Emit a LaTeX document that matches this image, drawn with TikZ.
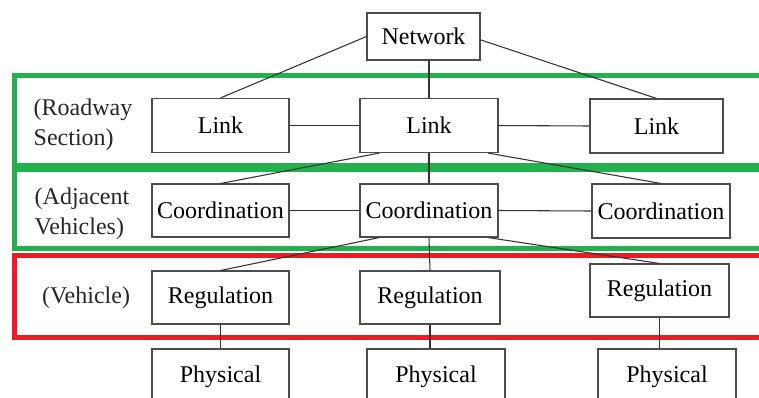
\documentclass[tikz,border=0pt]{standalone}
\usepackage{fontspec}
\setmainfont{Liberation Serif}
\usepackage{xcolor}
\usepackage{tikz}
\definecolor{bandgreen}{RGB}{34,177,76}
\definecolor{bandred}{RGB}{237,28,36}

\begin{document}
\begin{tikzpicture}[x=0.75pt,y=0.75pt,yscale=-1,xscale=1,
  box/.style={draw=black!70,line width=0.8pt,minimum width=102.75pt,minimum height=40.5pt,inner sep=0pt,font=\fontsize{18}{22.5}\selectfont},
  wire/.style={draw=black!80,line width=0.8pt},
  side/.style={align=left,inner sep=0pt,font=\fontsize{18}{22.5}\selectfont,text=black!85},
  band/.style={line width=3.75pt}]
\useasboundingbox (0,0) rectangle (759,397);
\clip (0,0) rectangle (759,397);
\draw [band,draw=bandgreen] (765,75.5) -- (14,75.5) -- (14,165.5) -- (765,165.5) ;
\draw [band,draw=bandgreen] (765,169.5) -- (14,169.5) -- (14,248.5) -- (765,248.5) ;
\draw [band,draw=bandred] (765,255) -- (14,255) -- (14,337) -- (765,337) ;
\node [box,minimum width=84.75pt,minimum height=35.25pt] (net) at (423.5,36.5) {Network};
\node [box] (link1) at (220.5,125.5) {Link};
\node [box,minimum width=103.5pt] (link2) at (429,125.5) {Link};
\node [box,minimum width=99.75pt] (link3) at (656.5,126) {Link};
\node [box,minimum height=39.75pt] (coord1) at (220.5,210.5) {Coordination};
\node [box,minimum width=103.5pt,minimum height=39.75pt] (coord2) at (429,210.5) {Coordination};
\node [box,minimum width=103.5pt] (coord3) at (661,211) {Coordination};
\node [box,minimum height=39.75pt] (reg1) at (220.5,297.5) {Regulation};
\node [box,minimum width=105pt,minimum height=39.75pt] (reg2) at (430,297.5) {Regulation};
\node [box,minimum width=104.25pt,minimum height=39.75pt] (reg3) at (659.5,290.5) {Regulation};
\node [box,minimum height=41.25pt] (phys1) at (220.5,376.5) {Physical};
\node [box,minimum width=103.5pt,minimum height=41.25pt] (phys2) at (436,376.5) {Physical};
\node [box,minimum width=103.5pt,minimum height=41.25pt] (phys3) at (667,376.5) {Physical};
\node [side] (lblroad) at (83,125) {(Roadway\\Section)};
\node [side] (lbladj) at (82,214) {(Adjacent\\Vehicles)};
\node [side] (lblveh) at (86,298) {(Vehicle)};
\draw [wire] (net.west) -- (link1.north) ;
\draw [wire] (link2.north) -- (link2.north |- net.south) ;
\draw [wire] ([yshift=2.5pt]net.east) -- (link3.north) ;
\draw [wire] (link1.east) -- (link2.west) ;
\draw [wire] (link2.east) -- (link3.west) ;
\draw [wire] ([xshift=15pt]link2.south west) -- (coord1.north) ;
\draw [wire] (link2.south) -- (coord2.north) ;
\draw [wire] ([xshift=-8pt]link2.south east) -- (coord3.north) ;
\draw [wire] (coord1.east) -- (coord2.west) ;
\draw [wire] (coord2.east) -- (coord3.west) ;
\draw [wire] ([xshift=15pt]coord2.south west) -- (reg1.north) ;
\draw [wire] (coord2.south) -- (reg2.north) ;
\draw [wire] ([xshift=-8pt]coord2.south east) -- (reg3.north) ;
\draw [wire] (reg1.south) -- (phys1.north) ;
\draw [wire] (reg2.south) -- (reg2.south |- phys2.north) ;
\draw [wire] (reg3.south) -- (reg3.south |- phys3.north) ;
\end{tikzpicture}
\end{document}
